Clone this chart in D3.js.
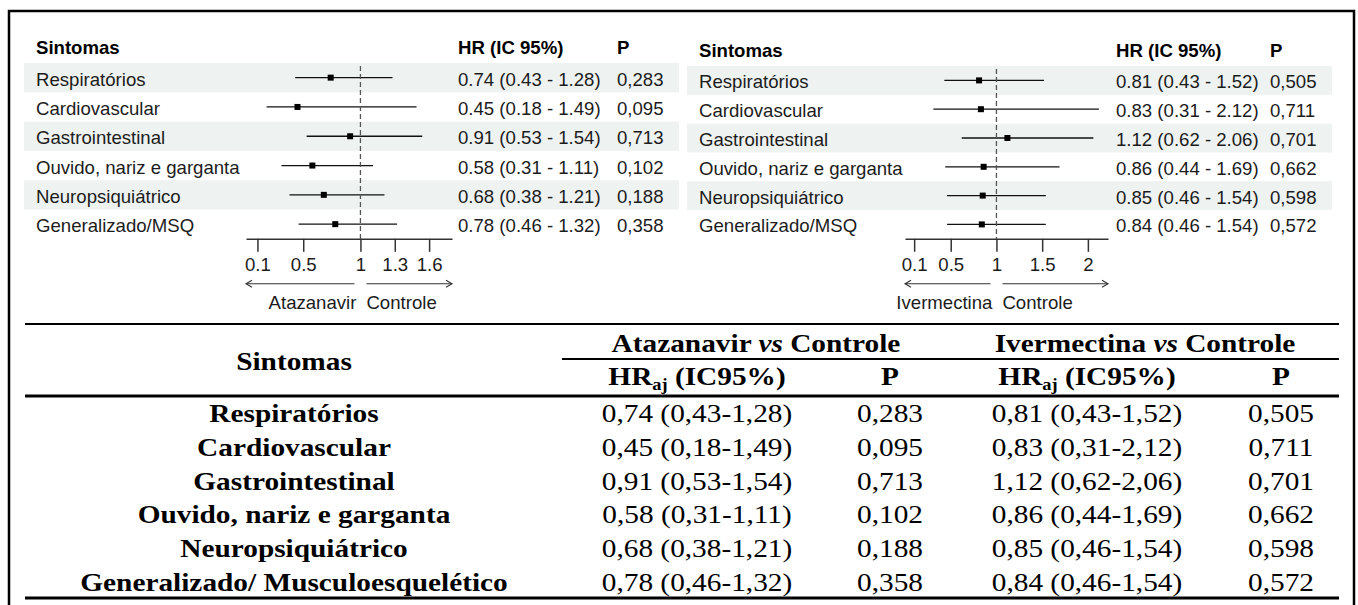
<!DOCTYPE html>
<html>
<head>
<meta charset="utf-8">
<script src="https://cdn.jsdelivr.net/npm/d3@7"></script>
<style>
    body { margin: 0; background: #fff; }
    svg { display: block; }
</style>
</head>
<body>
<div id="chart"></div>
<script>
// data
const symptoms = ["Respiratórios", "Cardiovascular", "Gastrointestinal", "Ouvido, nariz e garganta", "Neuropsiquiátrico", "Generalizado/MSQ"];
const symptomsTable = ["Respiratórios", "Cardiovascular", "Gastrointestinal", "Ouvido, nariz e garganta", "Neuropsiquiátrico", "Generalizado/ Musculoesquelético"];
const atzHR = [0.74, 0.45, 0.91, 0.58, 0.68, 0.78];
const atzLow = [0.43, 0.18, 0.53, 0.31, 0.38, 0.46];
const atzHigh = [1.28, 1.49, 1.54, 1.11, 1.21, 1.32];
const atzP = [0.283, 0.095, 0.713, 0.102, 0.188, 0.358];
const ivmHR = [0.81, 0.83, 1.12, 0.86, 0.85, 0.84];
const ivmLow = [0.43, 0.31, 0.62, 0.44, 0.46, 0.46];
const ivmHigh = [1.52, 2.12, 2.06, 1.69, 1.54, 1.54];
const ivmP = [0.505, 0.711, 0.701, 0.662, 0.598, 0.572];
const atzTicks = [0.1, 0.5, 1, 1.3, 1.6];
const ivmTicks = [0.1, 0.5, 1, 1.5, 2];
const arms = ["Atazanavir", "Ivermectina"];
const control = "Controle";

const W = 1358, H = 605;
const sans = "'Liberation Sans', Arial, sans-serif";
const serif = "'Liberation Serif', 'Times New Roman', serif";
const f2 = d3.format(".2f"), f3 = d3.format(".3f");
const comma = s => s.replace(/\./g, ",");

const svg = d3.select("#chart").append("svg").attr("width", W).attr("height", H);
svg.append("rect").attr("width", W).attr("height", H).attr("fill", "#fff");

function rowsOf(hr, lo, hi, p) {
    return symptoms.map((s, i) => ({ label: s, hr: hr[i], lo: lo[i], hi: hi[i], p: p[i] }));
}

function forestPanel(opt) {
    const g = svg.append("g");
    const rows = opt.rows;
    const x = d3.scaleLinear().domain(opt.domain).range(opt.range);
    const y = d3.scaleBand().domain(d3.range(rows.length))
        .range([opt.top, opt.top + opt.rowH * rows.length]);
    const axisY = opt.top + opt.rowH * rows.length;

    g.selectAll("rect.band").data(rows.filter((d, i) => i % 2 === 0))
        .join("rect")
        .attr("x", opt.bandX[0]).attr("width", opt.bandX[1] - opt.bandX[0])
        .attr("y", (d, i) => y(i * 2)).attr("height", y.bandwidth())
        .attr("fill", "#eef2f1");

    const text = (sel) => sel.attr("font-family", sans).attr("font-size", 18.6).attr("fill", "#1c1c1c");
    const head = g.append("g").attr("font-weight", "bold");
    head.append("text").attr("x", opt.labelX).attr("y", opt.headY).text("Sintomas").call(text);
    head.append("text").attr("x", opt.hrX).attr("y", opt.headY).text("HR (IC 95%)").call(text);
    head.append("text").attr("x", opt.pX).attr("y", opt.headY).text("P").call(text);
    head.selectAll("text").attr("fill", "#000");

    const row = g.selectAll("g.row").data(rows).join("g")
        .attr("transform", (d, i) => `translate(0, ${y(i) + y.bandwidth() / 2})`);
    row.append("text").attr("x", opt.labelX).attr("y", 8).text(d => d.label).call(text);
    row.append("text").attr("x", opt.hrX).attr("y", 8)
        .text(d => `${f2(d.hr)} (${f2(d.lo)} - ${f2(d.hi)})`).call(text);
    row.append("text").attr("x", opt.pX).attr("y", 8).text(d => comma(f3(d.p))).call(text);

    g.append("line")
        .attr("x1", x(1)).attr("x2", x(1))
        .attr("y1", opt.top + 3).attr("y2", axisY)
        .attr("stroke", "#555").attr("stroke-width", 1.3).attr("stroke-dasharray", "5,3");

    row.append("line")
        .attr("x1", d => x(d.lo)).attr("x2", d => x(d.hi))
        .attr("stroke", "#111").attr("stroke-width", 1.3);
    row.append("rect")
        .attr("x", d => x(d.hr) - 3).attr("y", -3)
        .attr("width", 6).attr("height", 6).attr("fill", "#000");

    const ax = g.append("g").attr("transform", `translate(0, ${axisY})`)
        .call(d3.axisBottom(x).tickValues(opt.ticks).tickFormat(d3.format("~g"))
            .tickSize(13).tickSizeOuter(0).tickPadding(6));
    ax.select(".domain").attr("stroke", "#333").attr("stroke-width", 1.5);
    ax.selectAll(".tick line").attr("stroke", "#333").attr("stroke-width", 1.5);
    ax.selectAll(".tick text").attr("font-family", sans).attr("font-size", 18.6).attr("fill", "#1c1c1c");

    // direction arrows under the axis
    const arrowY = axisY + 45;
    const arrows = [[x(1) - 6, opt.range[0], 1], [x(1) + 6, opt.range[1], -1]];
    arrows.forEach(([from, to, dir]) => {
        g.append("line").attr("x1", from).attr("x2", to).attr("y1", arrowY).attr("y2", arrowY)
            .attr("stroke", "#333").attr("stroke-width", 1.1);
        g.append("path")
            .attr("d", `M${to + dir * 6},${arrowY - 3.5}L${to},${arrowY}L${to + dir * 6},${arrowY + 3.5}`)
            .attr("fill", "none").attr("stroke", "#333").attr("stroke-width", 1.1);
    });
    g.append("text").attr("x", x(1) - 4).attr("y", arrowY + 25).attr("text-anchor", "end")
        .text(opt.arm).call(text);
    g.append("text").attr("x", x(1) + 6).attr("y", arrowY + 25).text(control).call(text);
}

forestPanel({
    rows: rowsOf(atzHR, atzLow, atzHigh, atzP),
    arm: arms[0], ticks: atzTicks,
    domain: [0, 1.8], range: [246, 452],
    top: 63, rowH: 29.3, headY: 54,
    bandX: [24, 679], labelX: 36, hrX: 458, pX: 617
});
forestPanel({
    rows: rowsOf(ivmHR, ivmLow, ivmHigh, ivmP),
    arm: arms[1], ticks: ivmTicks,
    domain: [0, 2.22], range: [905, 1108],
    top: 66, rowH: 28.8, headY: 57,
    bandX: [687, 1332], labelX: 699, hrX: 1116, pX: 1270
});

// table below the plots
const table = svg.append("g");
const tx0 = 25, tx1 = 1339;
const tableRows = symptomsTable.map((s, i) => [
    s,
    comma(`${f2(atzHR[i])} (${f2(atzLow[i])}-${f2(atzHigh[i])})`), comma(f3(atzP[i])),
    comma(`${f2(ivmHR[i])} (${f2(ivmLow[i])}-${f2(ivmHigh[i])})`), comma(f3(ivmP[i]))
]);
const colX = [294, 697, 890, 1087, 1281];
const rowY = d3.scaleLinear().domain([0, 1]).range([422, 455.8]);

function cell(xPos, yPos, bold) {
    return table.append("text")
        .attr("transform", `translate(${xPos}, ${yPos}) scale(1.15, 1)`)
        .attr("text-anchor", "middle")
        .attr("font-family", serif).attr("font-size", 25.5)
        .attr("font-weight", bold ? "bold" : "normal")
        .attr("fill", "#000");
}

cell(colX[0], 370, true).text("Sintomas");
[[arms[0], 756], [arms[1], 1145]].forEach(([arm, cx]) => {
    const t = cell(cx, 352, true);
    t.append("tspan").text(arm + " ");
    t.append("tspan").attr("font-style", "italic").text("vs");
    t.append("tspan").text(" " + control);
});
[colX[1], colX[3]].forEach(cx => {
    const t = cell(cx, 385, true);
    t.append("tspan").text("HR");
    t.append("tspan").attr("font-size", 16).attr("dy", 5).text("aj");
    t.append("tspan").attr("dy", -5).text(" (IC95%)");
});
[colX[2], colX[4]].forEach(cx => cell(cx, 385, true).text("P"));

tableRows.forEach((r, i) => {
    r.forEach((v, j) => cell(colX[j], rowY(i), j === 0).text(v));
});

const hline = (x1, x2, yy, w) => table.append("line")
    .attr("x1", x1).attr("x2", x2).attr("y1", yy).attr("y2", yy)
    .attr("stroke", "#000").attr("stroke-width", w);
hline(tx0, tx1, 324, 2);
hline(562, tx1, 359, 2);
hline(tx0, tx1, 396, 3);
hline(tx0, tx1, 598, 3);

// outer frame
svg.append("rect")
    .attr("x", 9).attr("y", 11).attr("width", 1345).attr("height", 600)
    .attr("fill", "none").attr("stroke", "#000").attr("stroke-width", 2.5);
</script>
</body>
</html>
